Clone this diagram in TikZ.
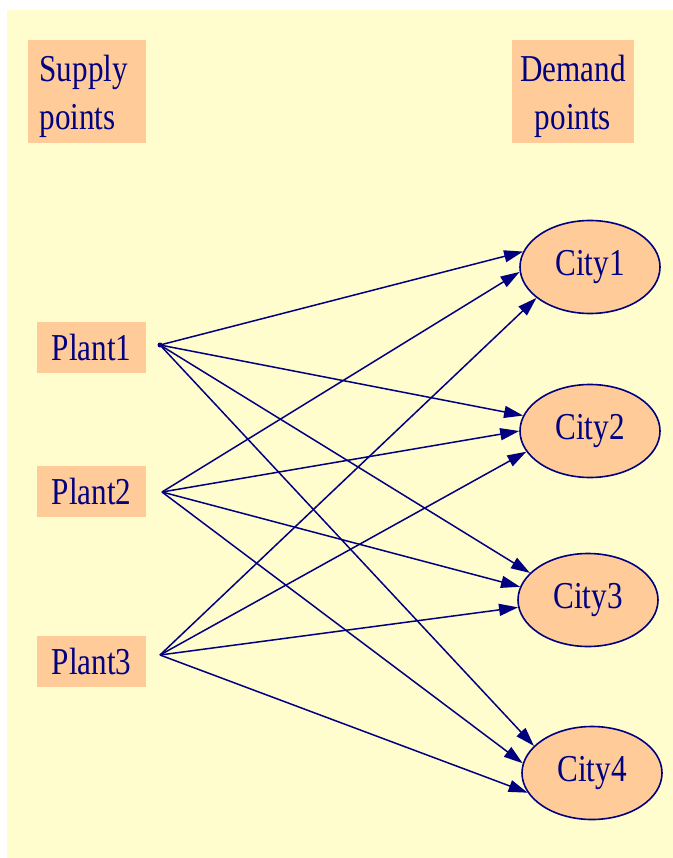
\documentclass[tikz,border=0pt]{standalone}
\usepackage{fontspec}
\usetikzlibrary{shapes.geometric,arrows.meta}
\newfontfamily\lblfont[FakeStretch=0.82]{Liberation Serif}
\definecolor{panel}{RGB}{255,252,206}
\definecolor{peach}{RGB}{255,204,153}
\definecolor{navy}{RGB}{0,0,128}
\begin{document}
\begin{tikzpicture}[x=1pt,y=-1pt,
  lbl/.style={font=\lblfont\fontsize{38}{48}\selectfont, text=navy},
  box/.style={lbl, fill=peach, inner sep=0pt},
  plantbox/.style={box, minimum width=109pt, minimum height=51pt},
  headbox/.style={box, minimum height=103pt},
  city/.style={lbl, ellipse, draw=navy, line width=1.6pt, fill=peach,
    minimum width=140pt, minimum height=93pt, inner sep=0pt},
  flow/.style={draw=navy, line width=1.5pt, -{Triangle[length=19pt,width=12pt]}}]

% page and panel
\useasboundingbox (0,0) rectangle (672,858);
\fill[white] (0,0) rectangle (672,858);
\fill[panel] (7,10) rectangle (673,859);

% column headings
\node[headbox, minimum width=118pt] (supply) at (87,92) {};
\node[lbl, align=left, anchor=west] (supplytext) at (36,96) {Supply\\points};
\node[headbox, minimum width=122pt] (demand) at (573,92) {};
\node[lbl, align=center] (demandtext) at (573,96) {Demand\\points};

% supply nodes and their outlet points
\node[plantbox] (plant1) at (91.5,347.5) {Plant1};
\node[plantbox] (plant2) at (91.5,491.5) {Plant2};
\node[plantbox] (plant3) at (91.5,661.5) {Plant3};
\coordinate (out1) at (160,345);
\coordinate (out2) at (162,492);
\coordinate (out3) at (160,655);

% demand nodes
\node[city] (city1) at (590,267) {City1};
\node[city] (city2) at (590,431) {City2};
\node[city] (city3) at (588,600) {City3};
\node[city] (city4) at (592,773) {City4};

% shipping routes
\draw[flow] (out1) -- (city1.167);
\draw[flow] (out2) -- (city1.184);
\draw[flow] (out3) -- (city1.210);

\draw[flow] (out1) -- (city2.167);
\draw[flow] (out2) -- (city2.180);
\draw[flow] (out3) -- (city2.198);

\draw[flow] (out1) -- (city3.155);
\draw[flow] (out2) -- (city3.169);
\draw[flow] (out3) -- (city3.186);

\draw[flow] (out1) -- (city4.155);
\draw[flow] (out2) -- (city4.172);
\draw[flow] (out3) -- (city4.197);

\fill[navy] (out1) circle (2.5pt);
\end{tikzpicture}
\end{document}
